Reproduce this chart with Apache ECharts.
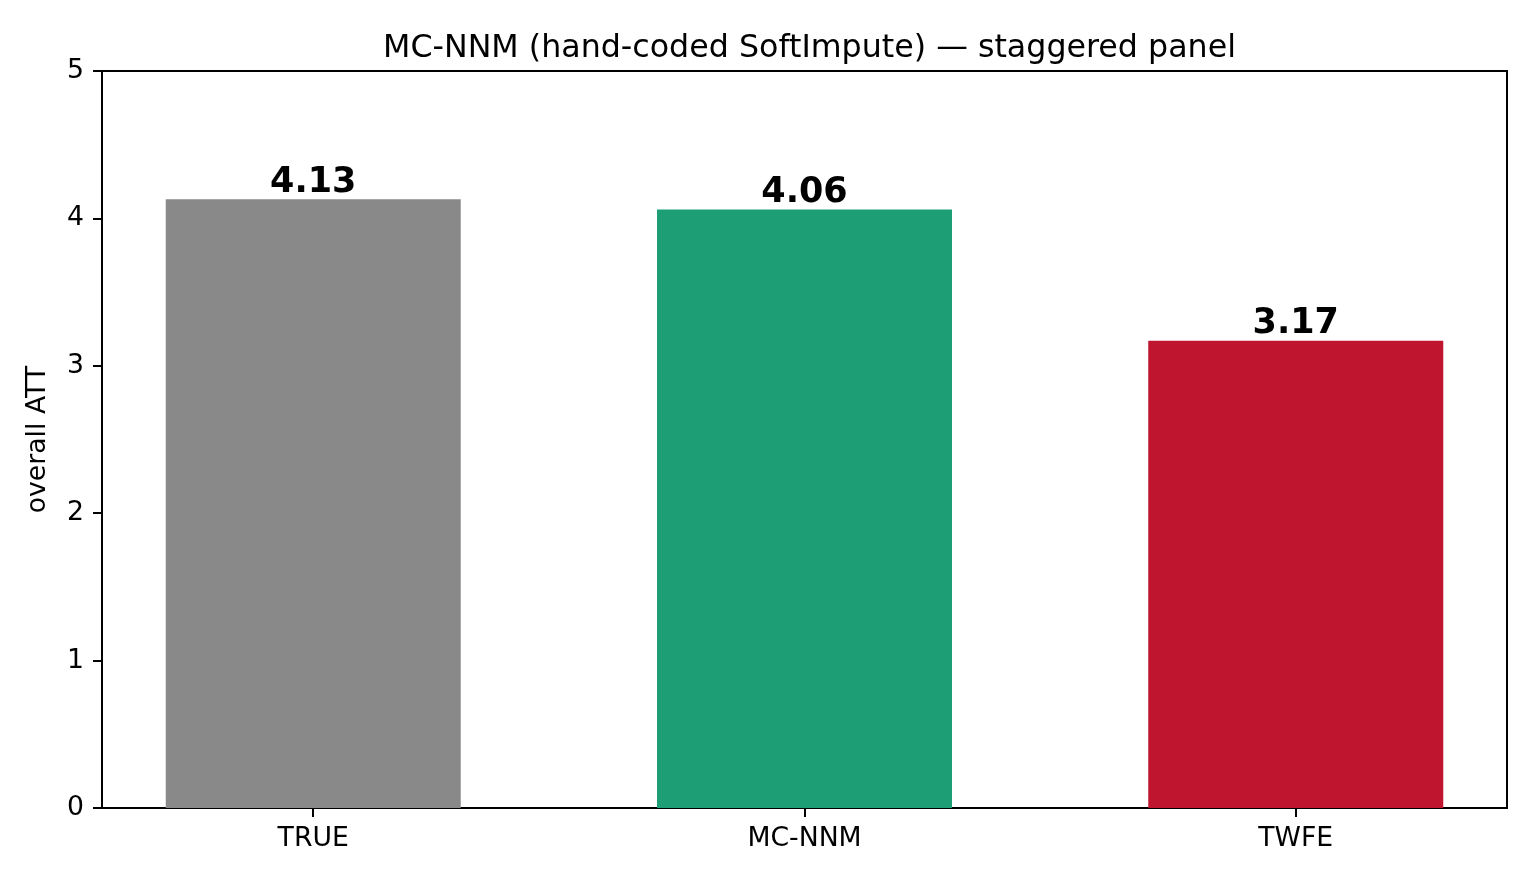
<!DOCTYPE html>
<html>
<head>
<meta charset="utf-8">
<script src="https://cdn.jsdelivr.net/npm/echarts@6/dist/echarts.min.js"></script>
<style>
html,body{margin:0;padding:0;background:#fff;}
#chart{width:1536px;height:883px;}
</style>
</head>
<body>
<div id="chart"></div>
<script>
const categories = ['TRUE', 'MC-NNM', 'TWFE'];
const values = [4.13, 4.06, 3.17];
const barColors = ['#898989', '#1e9e75', '#c0152e'];
const yTicks = [0, 1, 2, 3, 4, 5];
const titleText = 'MC-NNM (hand-coded SoftImpute) \u2014 staggered panel';
const yName = 'overall ATT';

const FONT = 'DejaVu Sans';
const chart = echarts.init(document.getElementById('chart'), null, {renderer: 'canvas'});

const option = {
  animation: false,
  backgroundColor: '#ffffff',
  title: {
    text: titleText,
    left: 804.5,
    textAlign: 'center',
    top: 28,
    textStyle: {fontFamily: FONT, fontSize: 31.7, fontWeight: 'normal', color: '#000'}
  },
  grid: {
    left: 102, top: 71, width: 1405, height: 737,
    show: true, borderColor: '#000', borderWidth: 2, backgroundColor: 'transparent'
  },
  xAxis: {
    type: 'value',
    min: -0.43,
    max: 2.43,
    splitLine: {show: false},
    axisLine: {show: true, onZero: false, lineStyle: {color: '#000', width: 2}},
    axisTick: {show: true, customValues: categories.map((c, i) => i), length: 9, lineStyle: {color: '#000', width: 2}},
    axisLabel: {
      customValues: categories.map((c, i) => i),
      formatter: v => categories[Math.round(v)] || '',
      fontFamily: FONT, fontSize: 26.7, color: '#000', margin: 18
    }
  },
  yAxis: {
    type: 'value',
    min: yTicks[0],
    max: yTicks[yTicks.length - 1],
    interval: 1,
    name: yName,
    nameLocation: 'middle',
    nameRotate: 90,
    nameGap: 50,
    nameTextStyle: {fontFamily: FONT, fontSize: 26.7, color: '#000'},
    splitLine: {show: false},
    axisLine: {show: true, onZero: false, lineStyle: {color: '#000', width: 2}},
    axisTick: {show: true, length: 9, lineStyle: {color: '#000', width: 2}},
    axisLabel: {fontFamily: FONT, fontSize: 26.7, color: '#000', margin: 18}
  },
  series: [{
    type: 'bar',
    barWidth: 295,
    data: categories.map((c, i) => ({value: [i, values[i]], itemStyle: {color: barColors[i]}})),
    label: {
      show: true,
      position: 'top',
      distance: -1,
      formatter: p => values[p.dataIndex].toFixed(2),
      fontFamily: FONT, fontSize: 35, fontWeight: 'bold', color: '#000'
    }
  }]
};
chart.setOption(option);
</script>
</body>
</html>
